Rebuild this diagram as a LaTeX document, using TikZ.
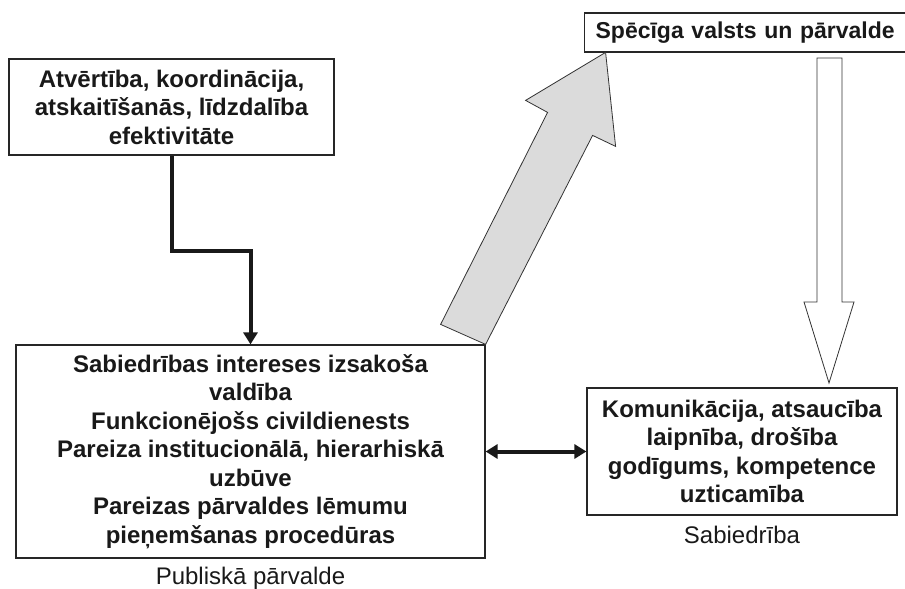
\documentclass[tikz,border=0pt]{standalone}
\usepackage{fontspec}
\setmainfont{Liberation Sans}
\usetikzlibrary{arrows.meta,calc}

\tikzset{
    box/.style={draw=black!85, line width=1.2pt, align=center, inner sep=0pt,
        font=\bfseries\fontsize{24}{28.5}\selectfont, text=black!90},
    caption/.style={anchor=base, inner sep=0pt, font=\fontsize{24}{28}\selectfont, text=black!90},
    link/.style={-{Triangle[length=12pt,width=14pt]}, line width=4pt, draw=black!90},
    twoway/.style={link, {Triangle[length=12pt,width=14pt]}-{Triangle[length=12pt,width=14pt]}},
    bigarrow/.style={draw=black!80, line width=0.8pt, line join=miter}
}

\begin{document}
\begin{tikzpicture}[x=1pt, y=-1pt]
    \useasboundingbox (0,0) rectangle (905,589);
    \node[box, minimum width=325pt, minimum height=96pt] (values) at (171.5,107)
        {Atvērtība, koordinācija,\\atskaitīšanās, līdzdalība\\efektivitāte};
    \node[box, font=\bfseries\fontsize{23}{28}\selectfont, anchor=west, align=left,
        text width=330pt, inner xsep=11pt, minimum height=39pt] (state) at (584,32.5)
        {Spēcīga valsts un pārvalde};
    \node[box, minimum width=469pt, minimum height=213pt] (public) at (250.5,451.5)
        {Sabiedrības intereses izsakoša\\valdība\\Funkcionējošs civildienests\\Pareiza institucionālā, hierarhiskā\\uzbūve\\Pareizas pārvaldes lēmumu\\pieņemšanas procedūras};
    \node[box, minimum width=310pt, minimum height=127pt] (society) at (742,451.5)
        {Komunikācija, atsaucība\\laipnība, drošība\\godīgums, kompetence\\uzticamība};
    \node[caption] (public-label) at ($(public.south)+(0,26)$) {Publiskā pārvalde};
    \node[caption] (society-label) at ($(society.south)+(0,28)$) {Sabiedrība};
    \draw[link] (values.south) -- ++(0,95) -| (public.north);
    \draw[twoway] (public) -- (society);
    \filldraw[bigarrow, fill=black!14] (public.north east) -- ++(107,-209) -- ++(23,11)
        -- ++(-10,-94) -- ++(-80,48) -- ++(22,12) -- ++(-107,212) -- cycle;
    \filldraw[bigarrow, fill=white] (817,58) -- (842,58) -- (842,302) -- (854,302)
        -- (829,383) -- (804,302) -- (817,302) -- cycle;
\end{tikzpicture}
\end{document}
